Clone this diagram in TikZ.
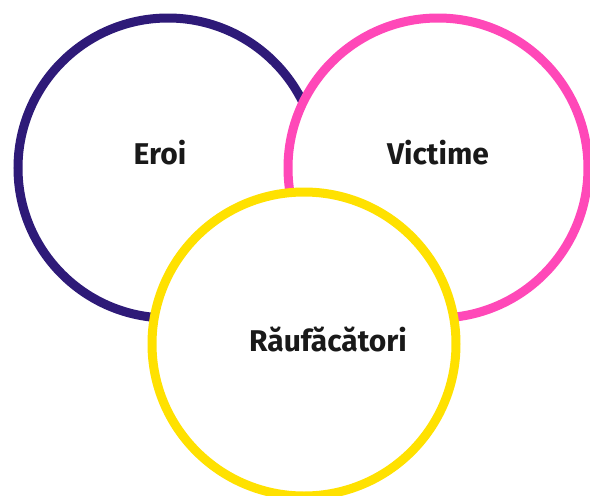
\documentclass[tikz,border=0pt]{standalone}
\usepackage{fontspec}
\setmainfont{Fira Sans}
\definecolor{ringPurple}{RGB}{46,26,120}
\definecolor{ringPink}{RGB}{255,72,184}
\definecolor{ringYellow}{RGB}{255,225,0}
\begin{document}
\begin{tikzpicture}[x=1pt,y=-1pt,
	ring/.style={line width=9pt, fill=white},
	label/.style={font=\fontsize{30}{36}\selectfont\bfseries, text=black!90, inner sep=0pt}]
	\useasboundingbox (0,0) rectangle (590,496);
	% centres
		\coordinate (eroiC) at (168,168);
		\coordinate (victC) at (438,168);
		\coordinate (raufC) at (304,344);
	% rings, each one covering the one before
		\draw[ring, draw=ringPurple] (eroiC) circle (150);
		\draw[ring, draw=ringPink] (victC) circle (150);
		\draw[ring, draw=ringYellow] (raufC) circle (152);
	% labels
		\node[label] (eroi) at (160,153) {Eroi};
		\node[label] (victime) at (438,153) {Victime};
		\node[label] (raufacatori) at (328,339) {Răufăcători};
\end{tikzpicture}
\end{document}
